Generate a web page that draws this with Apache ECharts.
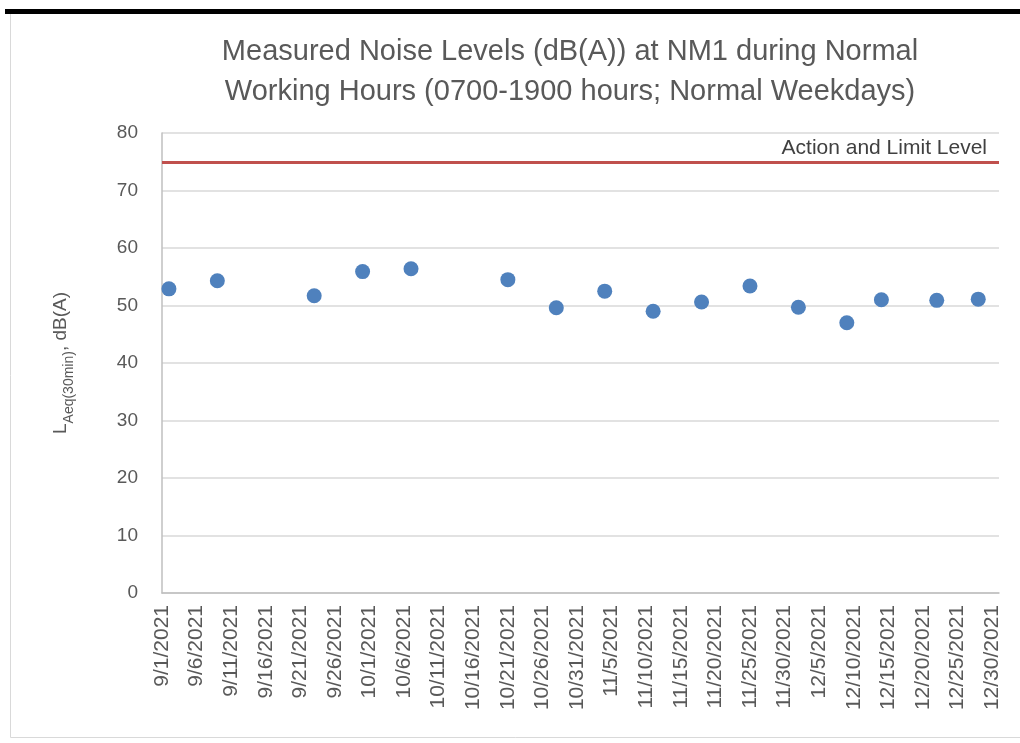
<!DOCTYPE html>
<html>
<head>
<meta charset="utf-8">
<script src="https://cdn.jsdelivr.net/npm/echarts@6/dist/echarts.min.js"></script>
<style>
  html, body { margin: 0; padding: 0; background: #fff; }
  #main { width: 1020px; height: 743px; }
</style>
</head>
<body>
<div id="main"></div>
<script>
// 测量日期和噪声值
var dates = ['2021-09-02', '2021-09-09', '2021-09-23', '2021-09-30', '2021-10-07', '2021-10-21',
  '2021-10-28', '2021-11-04', '2021-11-11', '2021-11-18', '2021-11-25', '2021-12-02',
  '2021-12-09', '2021-12-14', '2021-12-22', '2021-12-28'];
var levels = [52.9, 54.3, 51.7, 55.9, 56.4, 54.5, 49.6, 52.5, 49.0, 50.6, 53.4, 49.7, 47.0, 51.0, 50.9, 51.1];
var limitLevel = 75;
var startDate = '2021-09-01';
var yTicks = [0, 10, 20, 30, 40, 50, 60, 70, 80];

var DAY = 86400000;
var t0 = Date.parse(startDate + 'T00:00:00Z');
function dayOf(s) { return (Date.parse(s + 'T00:00:00Z') - t0) / DAY; }
function labelOf(d) {
  var dt = new Date(t0 + d * DAY);
  return (dt.getUTCMonth() + 1) + '/' + dt.getUTCDate() + '/' + dt.getUTCFullYear();
}

var points = dates.map(function (d, i) { return [dayOf(d), levels[i]]; });
var gray = '#595959';
var font = '"Liberation Sans", Arial, sans-serif';

var chart = echarts.init(document.getElementById('main'));
chart.setOption({
  animation: false,
  textStyle: { fontFamily: font },
  title: {
    text: 'Measured Noise Levels (dB(A)) at NM1 during Normal\nWorking Hours (0700-1900 hours; Normal Weekdays)',
    left: 565,
    top: 27,
    textAlign: 'center',
    textStyle: {
      fontFamily: font,
      fontSize: 29, fontWeight: 'normal', color: gray, lineHeight: 40
    }
  },
  graphic: [
    { type: 'rect', shape: { x: 10.5, y: 13.5, width: 1015, height: 724 },
      style: { fill: null, stroke: '#d9d9d9', lineWidth: 1 }, silent: true },
    { type: 'rect', shape: { x: 5, y: 9, width: 1015, height: 5 },
      style: { fill: '#000' }, silent: true }
  ],
  grid: { left: 162, right: 21, top: 133, bottom: 150 },
  xAxis: {
    type: 'value',
    min: 0, max: 121, interval: 5,
    axisLine: { show: true, lineStyle: { color: '#bfbfbf', width: 1.5 } },
    axisTick: { show: false },
    splitLine: { show: false },
    axisLabel: {
      rotate: 90, color: gray, fontSize: 21, margin: 12,
      showMaxLabel: false,
      formatter: function (v) { return labelOf(v); }
    }
  },
  yAxis: {
    type: 'value',
    min: yTicks[0], max: yTicks[yTicks.length - 1], interval: 10,
    axisLine: { show: true, lineStyle: { color: '#bfbfbf', width: 1.5 } },
    axisTick: { show: false },
    splitLine: { lineStyle: { color: '#d9d9d9', width: 1.5 } },
    axisLabel: { color: gray, fontSize: 19, margin: 24 },
    name: '{a|L}{b|Aeq(30min)}{a|, dB(A)}',
    nameLocation: 'middle',
    nameGap: 92,
    nameRotate: 90,
    nameTextStyle: {
      rich: {
        a: { fontSize: 19, color: gray, lineHeight: 26, verticalAlign: 'bottom' },
        b: { fontSize: 14, color: gray, lineHeight: 26, verticalAlign: 'bottom', padding: [0, 0, -6, 0] }
      }
    }
  },
  series: [{
    type: 'scatter',
    data: points,
    symbolSize: 15,
    itemStyle: { color: '#4F81BD', opacity: 1 },
    markLine: {
      silent: true,
      symbol: ['none', 'none'],
      lineStyle: { color: '#C0504D', width: 3, type: 'solid' },
      label: {
        show: true, position: 'insideEndTop', formatter: 'Action and Limit Level',
        color: '#404040', fontSize: 21, distance: [12, 3]
      },
      data: [{ yAxis: limitLevel }]
    }
  }]
});
</script>
</body>
</html>
